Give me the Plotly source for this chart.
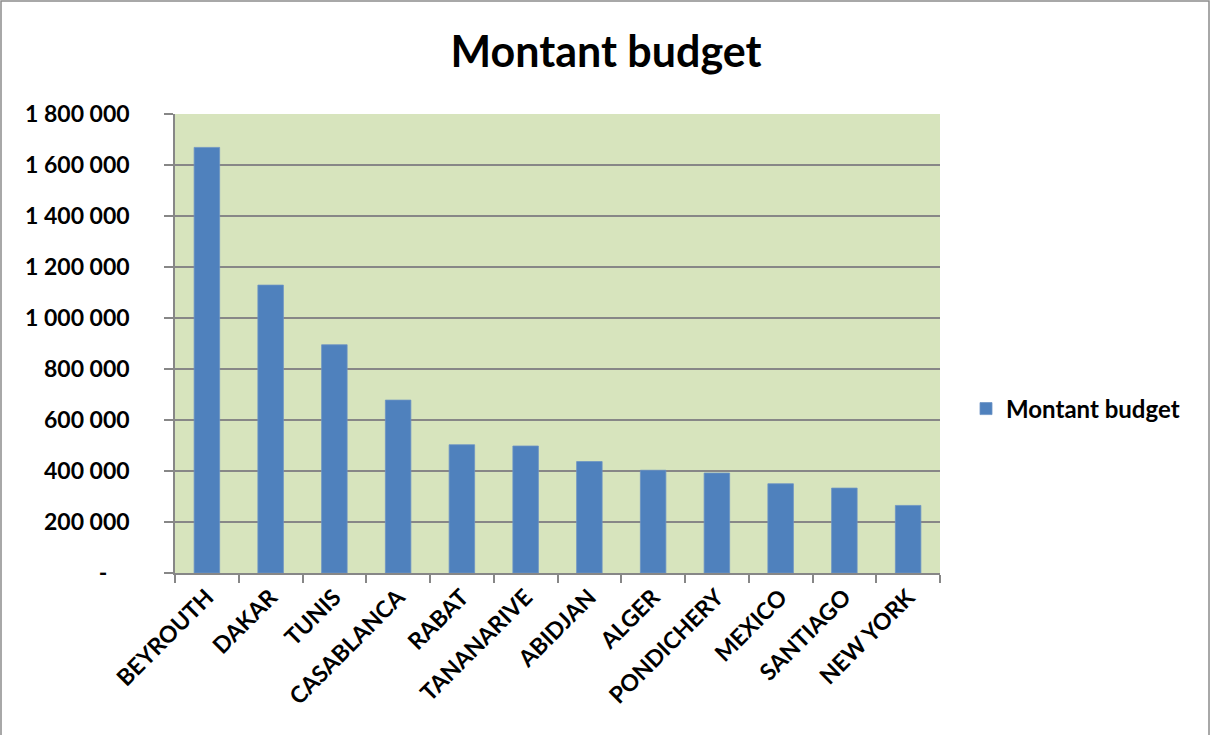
import plotly.graph_objects as go

categories = ["BEYROUTH", "DAKAR", "TUNIS", "CASABLANCA", "RABAT", "TANANARIVE",
              "ABIDJAN", "ALGER", "PONDICHERY", "MEXICO", "SANTIAGO", "NEW YORK"]
montant_budget = [1669000, 1129000, 895000, 678000, 503000, 498000,
                  437000, 403000, 392000, 350000, 333000, 265000]
y_tick_vals = [0, 200000, 400000, 600000, 800000, 1000000, 1200000, 1400000, 1600000, 1800000]
y_tick_text = ["-\u00a0\u00a0\u00a0\u00a0", "200 000", "400 000", "600 000", "800 000",
               "1 000 000", "1 200 000", "1 400 000", "1 600 000", "1 800 000"]

FONT = "Lato, 'Open Sans', sans-serif"
GRID = "#878787"

fig = go.Figure()
fig.add_trace(go.Bar(
    x=categories, y=montant_budget, name="Montant budget",
    marker=dict(color="#4F81BD", line=dict(color="#6C93C4", width=0.8)),
    showlegend=True,
))

W, H = 1212, 735
L, R, T, B = 175, 272, 114, 162
pw, ph = W - L - R, H - T - B

fig.update_layout(
    width=W, height=H,
    margin=dict(l=L, r=R, t=T, b=B, pad=0),
    paper_bgcolor="white",
    plot_bgcolor="#D7E4BD",
    bargap=0.6,
    title=dict(text="<b>Montant budget</b>", x=0.5, xanchor="center",
               y=1 - 52 / H, yanchor="middle",
               font=dict(family=FONT, size=43, color="black")),
    font=dict(family=FONT, color="black"),
    legend=dict(x=(966 - L) / pw, y=(T + ph - 409) / ph, xanchor="left", yanchor="middle",
                font=dict(family=FONT, size=24, color="black", weight="bold"),
                bgcolor="rgba(0,0,0,0)", itemwidth=30, traceorder="normal"),
    showlegend=True,
)

fig.update_yaxes(
    range=[0, 1800000],
    tickvals=y_tick_vals, ticktext=y_tick_text,
    tickfont=dict(family=FONT, size=23, color="black", weight="bold"),
    showgrid=True, gridcolor=GRID, gridwidth=1.5,
    showline=True, linecolor=GRID, linewidth=1.5,
    ticks="outside", ticklen=9, tickcolor=GRID, tickwidth=1.5,
    ticklabelstandoff=30,
    zeroline=False, fixedrange=True,
)
fig.update_xaxes(
    type="category",
    tickangle=-45,
    tickfont=dict(family=FONT, size=23, color="black", weight="bold"),
    showline=True, linecolor=GRID, linewidth=1.5,
    ticks="outside", ticklen=8, tickcolor=GRID, tickwidth=1.5,
    tickson="boundaries",
    showgrid=False, fixedrange=True,
)

# outer chart border
fig.add_shape(type="rect", xref="paper", yref="paper",
              x0=(1 - L) / pw, x1=(1209 - L) / pw,
              y0=(T + ph - (H + 20)) / ph, y1=(T + ph - 1) / ph,
              line=dict(color="#8c8c8c", width=1.5), fillcolor="rgba(0,0,0,0)",
              layer="below")

fig.write_html("out.html", config={"displayModeBar": False},
               post_script="document.body.style.margin='0';document.body.style.overflow='hidden';")
